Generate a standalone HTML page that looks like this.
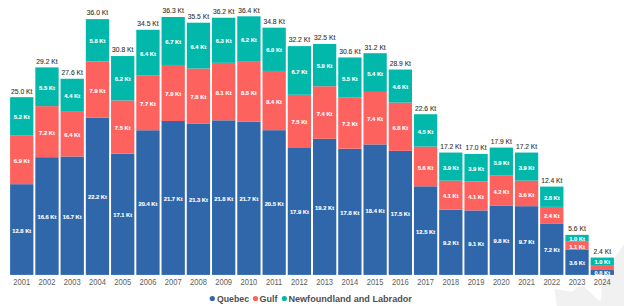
<!DOCTYPE html><html><head><meta charset="utf-8"><style>html,body{margin:0;padding:0;background:#fff;width:624px;height:306px;overflow:hidden}svg{display:block}text{font-family:"Liberation Sans",sans-serif}</style></head><body>
<svg width="624" height="306" viewBox="0 0 624 306">
<path fill="#f1f1f1" d="M554.4,288.7 L570.5,291.7 Q573.5,292.3 576.4,287.3 L584.3,286.6 L597.3,299.6 Q599.4,301.4 601.2,299 L601.8,284 L606,272 L614.7,257.6 L624,244 L624,306 L556.8,306 Z"/>
<rect x="10.10" y="184.17" width="23.30" height="90.73" fill="#2F67AA"/>
<rect x="10.10" y="135.21" width="23.30" height="48.96" fill="#FD625E"/>
<rect x="10.10" y="97.20" width="23.30" height="38.01" fill="#01B8AA"/>
<text transform="translate(21.75,232.56) scale(0.935,1)" font-size="6.2" font-weight="bold" fill="#ffffff" stroke="#ffffff" stroke-width="0.12" text-anchor="middle">12.8 Kt</text>
<text transform="translate(21.75,162.79) scale(0.935,1)" font-size="6.2" font-weight="bold" fill="#ffffff" stroke="#ffffff" stroke-width="0.12" text-anchor="middle">6.9 Kt</text>
<text transform="translate(21.75,119.30) scale(0.935,1)" font-size="6.2" font-weight="bold" fill="#ffffff" stroke="#ffffff" stroke-width="0.12" text-anchor="middle">5.2 Kt</text>
<text transform="translate(21.75,93.50) scale(0.885,1)" font-size="7.6" fill="#363534" stroke="#363534" stroke-width="0.12" text-anchor="middle">25.0 Kt</text>
<text transform="translate(21.75,284.80) scale(0.89,1)" font-size="8.5" fill="#605e5c" text-anchor="middle">2001</text>
<rect x="35.34" y="157.21" width="23.30" height="117.69" fill="#2F67AA"/>
<rect x="35.34" y="106.12" width="23.30" height="51.09" fill="#FD625E"/>
<rect x="35.34" y="67.40" width="23.30" height="38.72" fill="#01B8AA"/>
<text transform="translate(46.99,219.08) scale(0.935,1)" font-size="6.2" font-weight="bold" fill="#ffffff" stroke="#ffffff" stroke-width="0.12" text-anchor="middle">16.6 Kt</text>
<text transform="translate(46.99,134.76) scale(0.935,1)" font-size="6.2" font-weight="bold" fill="#ffffff" stroke="#ffffff" stroke-width="0.12" text-anchor="middle">7.2 Kt</text>
<text transform="translate(46.99,89.86) scale(0.935,1)" font-size="6.2" font-weight="bold" fill="#ffffff" stroke="#ffffff" stroke-width="0.12" text-anchor="middle">5.5 Kt</text>
<text transform="translate(46.99,63.70) scale(0.885,1)" font-size="7.6" fill="#363534" stroke="#363534" stroke-width="0.12" text-anchor="middle">29.2 Kt</text>
<text transform="translate(46.99,284.80) scale(0.89,1)" font-size="8.5" fill="#605e5c" text-anchor="middle">2002</text>
<rect x="60.58" y="156.50" width="23.30" height="118.40" fill="#2F67AA"/>
<rect x="60.58" y="111.08" width="23.30" height="45.41" fill="#FD625E"/>
<rect x="60.58" y="78.75" width="23.30" height="32.33" fill="#01B8AA"/>
<text transform="translate(72.23,218.72) scale(0.935,1)" font-size="6.2" font-weight="bold" fill="#ffffff" stroke="#ffffff" stroke-width="0.12" text-anchor="middle">16.7 Kt</text>
<text transform="translate(72.23,136.89) scale(0.935,1)" font-size="6.2" font-weight="bold" fill="#ffffff" stroke="#ffffff" stroke-width="0.12" text-anchor="middle">6.4 Kt</text>
<text transform="translate(72.23,98.02) scale(0.935,1)" font-size="6.2" font-weight="bold" fill="#ffffff" stroke="#ffffff" stroke-width="0.12" text-anchor="middle">4.4 Kt</text>
<text transform="translate(72.23,75.05) scale(0.885,1)" font-size="7.6" fill="#363534" stroke="#363534" stroke-width="0.12" text-anchor="middle">27.6 Kt</text>
<text transform="translate(72.23,284.80) scale(0.89,1)" font-size="8.5" fill="#605e5c" text-anchor="middle">2003</text>
<rect x="85.82" y="117.47" width="23.30" height="157.43" fill="#2F67AA"/>
<rect x="85.82" y="61.41" width="23.30" height="56.06" fill="#FD625E"/>
<rect x="85.82" y="19.14" width="23.30" height="42.27" fill="#01B8AA"/>
<text transform="translate(97.47,199.21) scale(0.935,1)" font-size="6.2" font-weight="bold" fill="#ffffff" stroke="#ffffff" stroke-width="0.12" text-anchor="middle">22.2 Kt</text>
<text transform="translate(97.47,92.54) scale(0.935,1)" font-size="6.2" font-weight="bold" fill="#ffffff" stroke="#ffffff" stroke-width="0.12" text-anchor="middle">7.9 Kt</text>
<text transform="translate(97.47,43.38) scale(0.935,1)" font-size="6.2" font-weight="bold" fill="#ffffff" stroke="#ffffff" stroke-width="0.12" text-anchor="middle">5.8 Kt</text>
<text transform="translate(97.47,15.44) scale(0.885,1)" font-size="7.6" fill="#363534" stroke="#363534" stroke-width="0.12" text-anchor="middle">36.0 Kt</text>
<text transform="translate(97.47,284.80) scale(0.89,1)" font-size="8.5" fill="#605e5c" text-anchor="middle">2004</text>
<rect x="111.06" y="153.66" width="23.30" height="121.24" fill="#2F67AA"/>
<rect x="111.06" y="100.44" width="23.30" height="53.22" fill="#FD625E"/>
<rect x="111.06" y="56.04" width="23.30" height="44.40" fill="#01B8AA"/>
<text transform="translate(122.71,217.30) scale(0.935,1)" font-size="6.2" font-weight="bold" fill="#ffffff" stroke="#ffffff" stroke-width="0.12" text-anchor="middle">17.1 Kt</text>
<text transform="translate(122.71,130.15) scale(0.935,1)" font-size="6.2" font-weight="bold" fill="#ffffff" stroke="#ffffff" stroke-width="0.12" text-anchor="middle">7.5 Kt</text>
<text transform="translate(122.71,81.34) scale(0.935,1)" font-size="6.2" font-weight="bold" fill="#ffffff" stroke="#ffffff" stroke-width="0.12" text-anchor="middle">6.2 Kt</text>
<text transform="translate(122.71,52.34) scale(0.885,1)" font-size="7.6" fill="#363534" stroke="#363534" stroke-width="0.12" text-anchor="middle">30.8 Kt</text>
<text transform="translate(122.71,284.80) scale(0.89,1)" font-size="8.5" fill="#605e5c" text-anchor="middle">2005</text>
<rect x="136.30" y="130.24" width="23.30" height="144.66" fill="#2F67AA"/>
<rect x="136.30" y="75.60" width="23.30" height="54.64" fill="#FD625E"/>
<rect x="136.30" y="29.79" width="23.30" height="45.81" fill="#01B8AA"/>
<text transform="translate(147.95,205.60) scale(0.935,1)" font-size="6.2" font-weight="bold" fill="#ffffff" stroke="#ffffff" stroke-width="0.12" text-anchor="middle">20.4 Kt</text>
<text transform="translate(147.95,106.02) scale(0.935,1)" font-size="6.2" font-weight="bold" fill="#ffffff" stroke="#ffffff" stroke-width="0.12" text-anchor="middle">7.7 Kt</text>
<text transform="translate(147.95,55.80) scale(0.935,1)" font-size="6.2" font-weight="bold" fill="#ffffff" stroke="#ffffff" stroke-width="0.12" text-anchor="middle">6.4 Kt</text>
<text transform="translate(147.95,26.09) scale(0.885,1)" font-size="7.6" fill="#363534" stroke="#363534" stroke-width="0.12" text-anchor="middle">34.5 Kt</text>
<text transform="translate(147.95,284.80) scale(0.89,1)" font-size="8.5" fill="#605e5c" text-anchor="middle">2006</text>
<rect x="161.54" y="121.02" width="23.30" height="153.88" fill="#2F67AA"/>
<rect x="161.54" y="64.96" width="23.30" height="56.06" fill="#FD625E"/>
<rect x="161.54" y="17.02" width="23.30" height="47.94" fill="#01B8AA"/>
<text transform="translate(173.19,200.98) scale(0.935,1)" font-size="6.2" font-weight="bold" fill="#ffffff" stroke="#ffffff" stroke-width="0.12" text-anchor="middle">21.7 Kt</text>
<text transform="translate(173.19,96.09) scale(0.935,1)" font-size="6.2" font-weight="bold" fill="#ffffff" stroke="#ffffff" stroke-width="0.12" text-anchor="middle">7.9 Kt</text>
<text transform="translate(173.19,44.09) scale(0.935,1)" font-size="6.2" font-weight="bold" fill="#ffffff" stroke="#ffffff" stroke-width="0.12" text-anchor="middle">6.7 Kt</text>
<text transform="translate(173.19,13.32) scale(0.885,1)" font-size="7.6" fill="#363534" stroke="#363534" stroke-width="0.12" text-anchor="middle">36.3 Kt</text>
<text transform="translate(173.19,284.80) scale(0.89,1)" font-size="8.5" fill="#605e5c" text-anchor="middle">2007</text>
<rect x="186.78" y="123.86" width="23.30" height="151.04" fill="#2F67AA"/>
<rect x="186.78" y="68.51" width="23.30" height="55.35" fill="#FD625E"/>
<rect x="186.78" y="22.69" width="23.30" height="45.81" fill="#01B8AA"/>
<text transform="translate(198.43,202.40) scale(0.935,1)" font-size="6.2" font-weight="bold" fill="#ffffff" stroke="#ffffff" stroke-width="0.12" text-anchor="middle">21.3 Kt</text>
<text transform="translate(198.43,99.28) scale(0.935,1)" font-size="6.2" font-weight="bold" fill="#ffffff" stroke="#ffffff" stroke-width="0.12" text-anchor="middle">7.8 Kt</text>
<text transform="translate(198.43,48.70) scale(0.935,1)" font-size="6.2" font-weight="bold" fill="#ffffff" stroke="#ffffff" stroke-width="0.12" text-anchor="middle">6.4 Kt</text>
<text transform="translate(198.43,18.99) scale(0.885,1)" font-size="7.6" fill="#363534" stroke="#363534" stroke-width="0.12" text-anchor="middle">35.5 Kt</text>
<text transform="translate(198.43,284.80) scale(0.89,1)" font-size="8.5" fill="#605e5c" text-anchor="middle">2008</text>
<rect x="212.02" y="120.31" width="23.30" height="154.59" fill="#2F67AA"/>
<rect x="212.02" y="62.83" width="23.30" height="57.48" fill="#FD625E"/>
<rect x="212.02" y="17.72" width="23.30" height="45.10" fill="#01B8AA"/>
<text transform="translate(223.67,200.63) scale(0.935,1)" font-size="6.2" font-weight="bold" fill="#ffffff" stroke="#ffffff" stroke-width="0.12" text-anchor="middle">21.8 Kt</text>
<text transform="translate(223.67,94.67) scale(0.935,1)" font-size="6.2" font-weight="bold" fill="#ffffff" stroke="#ffffff" stroke-width="0.12" text-anchor="middle">8.1 Kt</text>
<text transform="translate(223.67,43.38) scale(0.935,1)" font-size="6.2" font-weight="bold" fill="#ffffff" stroke="#ffffff" stroke-width="0.12" text-anchor="middle">6.3 Kt</text>
<text transform="translate(223.67,14.02) scale(0.885,1)" font-size="7.6" fill="#363534" stroke="#363534" stroke-width="0.12" text-anchor="middle">36.2 Kt</text>
<text transform="translate(223.67,284.80) scale(0.89,1)" font-size="8.5" fill="#605e5c" text-anchor="middle">2009</text>
<rect x="237.26" y="121.73" width="23.30" height="153.17" fill="#2F67AA"/>
<rect x="237.26" y="61.13" width="23.30" height="60.60" fill="#FD625E"/>
<rect x="237.26" y="16.31" width="23.30" height="44.82" fill="#01B8AA"/>
<text transform="translate(248.91,201.34) scale(0.935,1)" font-size="6.2" font-weight="bold" fill="#ffffff" stroke="#ffffff" stroke-width="0.12" text-anchor="middle">21.7 Kt</text>
<text transform="translate(248.91,94.53) scale(0.935,1)" font-size="6.2" font-weight="bold" fill="#ffffff" stroke="#ffffff" stroke-width="0.12" text-anchor="middle">8.5 Kt</text>
<text transform="translate(248.91,41.82) scale(0.935,1)" font-size="6.2" font-weight="bold" fill="#ffffff" stroke="#ffffff" stroke-width="0.12" text-anchor="middle">6.2 Kt</text>
<text transform="translate(248.91,12.61) scale(0.885,1)" font-size="7.6" fill="#363534" stroke="#363534" stroke-width="0.12" text-anchor="middle">36.4 Kt</text>
<text transform="translate(248.91,284.80) scale(0.89,1)" font-size="8.5" fill="#605e5c" text-anchor="middle">2010</text>
<rect x="262.50" y="130.17" width="23.30" height="144.73" fill="#2F67AA"/>
<rect x="262.50" y="70.92" width="23.30" height="59.25" fill="#FD625E"/>
<rect x="262.50" y="27.66" width="23.30" height="43.26" fill="#01B8AA"/>
<text transform="translate(274.15,205.56) scale(0.935,1)" font-size="6.2" font-weight="bold" fill="#ffffff" stroke="#ffffff" stroke-width="0.12" text-anchor="middle">20.5 Kt</text>
<text transform="translate(274.15,103.64) scale(0.935,1)" font-size="6.2" font-weight="bold" fill="#ffffff" stroke="#ffffff" stroke-width="0.12" text-anchor="middle">8.4 Kt</text>
<text transform="translate(274.15,52.39) scale(0.935,1)" font-size="6.2" font-weight="bold" fill="#ffffff" stroke="#ffffff" stroke-width="0.12" text-anchor="middle">6.0 Kt</text>
<text transform="translate(274.15,23.96) scale(0.885,1)" font-size="7.6" fill="#363534" stroke="#363534" stroke-width="0.12" text-anchor="middle">34.8 Kt</text>
<text transform="translate(274.15,284.80) scale(0.89,1)" font-size="8.5" fill="#605e5c" text-anchor="middle">2011</text>
<rect x="287.74" y="147.98" width="23.30" height="126.92" fill="#2F67AA"/>
<rect x="287.74" y="94.76" width="23.30" height="53.22" fill="#FD625E"/>
<rect x="287.74" y="46.11" width="23.30" height="48.65" fill="#01B8AA"/>
<text transform="translate(299.39,214.47) scale(0.935,1)" font-size="6.2" font-weight="bold" fill="#ffffff" stroke="#ffffff" stroke-width="0.12" text-anchor="middle">17.9 Kt</text>
<text transform="translate(299.39,124.47) scale(0.935,1)" font-size="6.2" font-weight="bold" fill="#ffffff" stroke="#ffffff" stroke-width="0.12" text-anchor="middle">7.5 Kt</text>
<text transform="translate(299.39,73.54) scale(0.935,1)" font-size="6.2" font-weight="bold" fill="#ffffff" stroke="#ffffff" stroke-width="0.12" text-anchor="middle">6.7 Kt</text>
<text transform="translate(299.39,42.41) scale(0.885,1)" font-size="7.6" fill="#363534" stroke="#363534" stroke-width="0.12" text-anchor="middle">32.2 Kt</text>
<text transform="translate(299.39,284.80) scale(0.89,1)" font-size="8.5" fill="#605e5c" text-anchor="middle">2012</text>
<rect x="312.98" y="138.76" width="23.30" height="136.14" fill="#2F67AA"/>
<rect x="312.98" y="86.25" width="23.30" height="52.51" fill="#FD625E"/>
<rect x="312.98" y="43.98" width="23.30" height="42.27" fill="#01B8AA"/>
<text transform="translate(324.63,209.85) scale(0.935,1)" font-size="6.2" font-weight="bold" fill="#ffffff" stroke="#ffffff" stroke-width="0.12" text-anchor="middle">19.2 Kt</text>
<text transform="translate(324.63,115.60) scale(0.935,1)" font-size="6.2" font-weight="bold" fill="#ffffff" stroke="#ffffff" stroke-width="0.12" text-anchor="middle">7.4 Kt</text>
<text transform="translate(324.63,68.21) scale(0.935,1)" font-size="6.2" font-weight="bold" fill="#ffffff" stroke="#ffffff" stroke-width="0.12" text-anchor="middle">5.9 Kt</text>
<text transform="translate(324.63,40.28) scale(0.885,1)" font-size="7.6" fill="#363534" stroke="#363534" stroke-width="0.12" text-anchor="middle">32.5 Kt</text>
<text transform="translate(324.63,284.80) scale(0.89,1)" font-size="8.5" fill="#605e5c" text-anchor="middle">2013</text>
<rect x="338.22" y="148.69" width="23.30" height="126.21" fill="#2F67AA"/>
<rect x="338.22" y="97.60" width="23.30" height="51.09" fill="#FD625E"/>
<rect x="338.22" y="57.46" width="23.30" height="40.14" fill="#01B8AA"/>
<text transform="translate(349.87,214.82) scale(0.935,1)" font-size="6.2" font-weight="bold" fill="#ffffff" stroke="#ffffff" stroke-width="0.12" text-anchor="middle">17.8 Kt</text>
<text transform="translate(349.87,126.25) scale(0.935,1)" font-size="6.2" font-weight="bold" fill="#ffffff" stroke="#ffffff" stroke-width="0.12" text-anchor="middle">7.2 Kt</text>
<text transform="translate(349.87,80.63) scale(0.935,1)" font-size="6.2" font-weight="bold" fill="#ffffff" stroke="#ffffff" stroke-width="0.12" text-anchor="middle">5.5 Kt</text>
<text transform="translate(349.87,53.76) scale(0.885,1)" font-size="7.6" fill="#363534" stroke="#363534" stroke-width="0.12" text-anchor="middle">30.6 Kt</text>
<text transform="translate(349.87,284.80) scale(0.89,1)" font-size="8.5" fill="#605e5c" text-anchor="middle">2014</text>
<rect x="363.46" y="144.43" width="23.30" height="130.47" fill="#2F67AA"/>
<rect x="363.46" y="91.92" width="23.30" height="52.51" fill="#FD625E"/>
<rect x="363.46" y="53.20" width="23.30" height="38.72" fill="#01B8AA"/>
<text transform="translate(375.11,212.69) scale(0.935,1)" font-size="6.2" font-weight="bold" fill="#ffffff" stroke="#ffffff" stroke-width="0.12" text-anchor="middle">18.4 Kt</text>
<text transform="translate(375.11,121.28) scale(0.935,1)" font-size="6.2" font-weight="bold" fill="#ffffff" stroke="#ffffff" stroke-width="0.12" text-anchor="middle">7.4 Kt</text>
<text transform="translate(375.11,75.66) scale(0.935,1)" font-size="6.2" font-weight="bold" fill="#ffffff" stroke="#ffffff" stroke-width="0.12" text-anchor="middle">5.4 Kt</text>
<text transform="translate(375.11,49.50) scale(0.885,1)" font-size="7.6" fill="#363534" stroke="#363534" stroke-width="0.12" text-anchor="middle">31.2 Kt</text>
<text transform="translate(375.11,284.80) scale(0.89,1)" font-size="8.5" fill="#605e5c" text-anchor="middle">2015</text>
<rect x="388.70" y="150.82" width="23.30" height="124.08" fill="#2F67AA"/>
<rect x="388.70" y="102.57" width="23.30" height="48.25" fill="#FD625E"/>
<rect x="388.70" y="69.53" width="23.30" height="33.04" fill="#01B8AA"/>
<text transform="translate(400.35,215.88) scale(0.935,1)" font-size="6.2" font-weight="bold" fill="#ffffff" stroke="#ffffff" stroke-width="0.12" text-anchor="middle">17.5 Kt</text>
<text transform="translate(400.35,129.79) scale(0.935,1)" font-size="6.2" font-weight="bold" fill="#ffffff" stroke="#ffffff" stroke-width="0.12" text-anchor="middle">6.8 Kt</text>
<text transform="translate(400.35,89.15) scale(0.935,1)" font-size="6.2" font-weight="bold" fill="#ffffff" stroke="#ffffff" stroke-width="0.12" text-anchor="middle">4.6 Kt</text>
<text transform="translate(400.35,65.83) scale(0.885,1)" font-size="7.6" fill="#363534" stroke="#363534" stroke-width="0.12" text-anchor="middle">28.9 Kt</text>
<text transform="translate(400.35,284.80) scale(0.89,1)" font-size="8.5" fill="#605e5c" text-anchor="middle">2016</text>
<rect x="413.94" y="186.30" width="23.30" height="88.60" fill="#2F67AA"/>
<rect x="413.94" y="146.56" width="23.30" height="39.74" fill="#FD625E"/>
<rect x="413.94" y="114.23" width="23.30" height="32.33" fill="#01B8AA"/>
<text transform="translate(425.59,233.62) scale(0.935,1)" font-size="6.2" font-weight="bold" fill="#ffffff" stroke="#ffffff" stroke-width="0.12" text-anchor="middle">12.5 Kt</text>
<text transform="translate(425.59,169.53) scale(0.935,1)" font-size="6.2" font-weight="bold" fill="#ffffff" stroke="#ffffff" stroke-width="0.12" text-anchor="middle">5.6 Kt</text>
<text transform="translate(425.59,133.50) scale(0.935,1)" font-size="6.2" font-weight="bold" fill="#ffffff" stroke="#ffffff" stroke-width="0.12" text-anchor="middle">4.5 Kt</text>
<text transform="translate(425.59,110.53) scale(0.885,1)" font-size="7.6" fill="#363534" stroke="#363534" stroke-width="0.12" text-anchor="middle">22.6 Kt</text>
<text transform="translate(425.59,284.80) scale(0.89,1)" font-size="8.5" fill="#605e5c" text-anchor="middle">2017</text>
<rect x="439.18" y="209.72" width="23.30" height="65.18" fill="#2F67AA"/>
<rect x="439.18" y="180.62" width="23.30" height="29.09" fill="#FD625E"/>
<rect x="439.18" y="152.55" width="23.30" height="28.07" fill="#01B8AA"/>
<text transform="translate(450.83,245.33) scale(0.935,1)" font-size="6.2" font-weight="bold" fill="#ffffff" stroke="#ffffff" stroke-width="0.12" text-anchor="middle">9.2 Kt</text>
<text transform="translate(450.83,198.27) scale(0.935,1)" font-size="6.2" font-weight="bold" fill="#ffffff" stroke="#ffffff" stroke-width="0.12" text-anchor="middle">4.1 Kt</text>
<text transform="translate(450.83,169.69) scale(0.935,1)" font-size="6.2" font-weight="bold" fill="#ffffff" stroke="#ffffff" stroke-width="0.12" text-anchor="middle">3.9 Kt</text>
<text transform="translate(450.83,148.85) scale(0.885,1)" font-size="7.6" fill="#363534" stroke="#363534" stroke-width="0.12" text-anchor="middle">17.2 Kt</text>
<text transform="translate(450.83,284.80) scale(0.89,1)" font-size="8.5" fill="#605e5c" text-anchor="middle">2018</text>
<rect x="464.42" y="210.43" width="23.30" height="64.47" fill="#2F67AA"/>
<rect x="464.42" y="181.33" width="23.30" height="29.09" fill="#FD625E"/>
<rect x="464.42" y="153.97" width="23.30" height="27.36" fill="#01B8AA"/>
<text transform="translate(476.07,245.69) scale(0.935,1)" font-size="6.2" font-weight="bold" fill="#ffffff" stroke="#ffffff" stroke-width="0.12" text-anchor="middle">9.1 Kt</text>
<text transform="translate(476.07,198.98) scale(0.935,1)" font-size="6.2" font-weight="bold" fill="#ffffff" stroke="#ffffff" stroke-width="0.12" text-anchor="middle">4.1 Kt</text>
<text transform="translate(476.07,170.75) scale(0.935,1)" font-size="6.2" font-weight="bold" fill="#ffffff" stroke="#ffffff" stroke-width="0.12" text-anchor="middle">3.9 Kt</text>
<text transform="translate(476.07,150.27) scale(0.885,1)" font-size="7.6" fill="#363534" stroke="#363534" stroke-width="0.12" text-anchor="middle">17.0 Kt</text>
<text transform="translate(476.07,284.80) scale(0.89,1)" font-size="8.5" fill="#605e5c" text-anchor="middle">2019</text>
<rect x="489.66" y="205.46" width="23.30" height="69.44" fill="#2F67AA"/>
<rect x="489.66" y="175.66" width="23.30" height="29.80" fill="#FD625E"/>
<rect x="489.66" y="147.58" width="23.30" height="28.07" fill="#01B8AA"/>
<text transform="translate(501.31,243.20) scale(0.935,1)" font-size="6.2" font-weight="bold" fill="#ffffff" stroke="#ffffff" stroke-width="0.12" text-anchor="middle">9.8 Kt</text>
<text transform="translate(501.31,193.66) scale(0.935,1)" font-size="6.2" font-weight="bold" fill="#ffffff" stroke="#ffffff" stroke-width="0.12" text-anchor="middle">4.2 Kt</text>
<text transform="translate(501.31,164.72) scale(0.935,1)" font-size="6.2" font-weight="bold" fill="#ffffff" stroke="#ffffff" stroke-width="0.12" text-anchor="middle">3.9 Kt</text>
<text transform="translate(501.31,143.88) scale(0.885,1)" font-size="7.6" fill="#363534" stroke="#363534" stroke-width="0.12" text-anchor="middle">17.9 Kt</text>
<text transform="translate(501.31,284.80) scale(0.89,1)" font-size="8.5" fill="#605e5c" text-anchor="middle">2020</text>
<rect x="514.90" y="206.17" width="23.30" height="68.73" fill="#2F67AA"/>
<rect x="514.90" y="180.62" width="23.30" height="25.55" fill="#FD625E"/>
<rect x="514.90" y="152.55" width="23.30" height="28.07" fill="#01B8AA"/>
<text transform="translate(526.55,243.56) scale(0.935,1)" font-size="6.2" font-weight="bold" fill="#ffffff" stroke="#ffffff" stroke-width="0.12" text-anchor="middle">9.7 Kt</text>
<text transform="translate(526.55,196.50) scale(0.935,1)" font-size="6.2" font-weight="bold" fill="#ffffff" stroke="#ffffff" stroke-width="0.12" text-anchor="middle">3.6 Kt</text>
<text transform="translate(526.55,169.69) scale(0.935,1)" font-size="6.2" font-weight="bold" fill="#ffffff" stroke="#ffffff" stroke-width="0.12" text-anchor="middle">3.9 Kt</text>
<text transform="translate(526.55,148.85) scale(0.885,1)" font-size="7.6" fill="#363534" stroke="#363534" stroke-width="0.12" text-anchor="middle">17.2 Kt</text>
<text transform="translate(526.55,284.80) scale(0.89,1)" font-size="8.5" fill="#605e5c" text-anchor="middle">2021</text>
<rect x="540.14" y="223.91" width="23.30" height="50.99" fill="#2F67AA"/>
<rect x="540.14" y="206.88" width="23.30" height="17.03" fill="#FD625E"/>
<rect x="540.14" y="186.61" width="23.30" height="20.27" fill="#01B8AA"/>
<text transform="translate(551.79,252.43) scale(0.935,1)" font-size="6.2" font-weight="bold" fill="#ffffff" stroke="#ffffff" stroke-width="0.12" text-anchor="middle">7.2 Kt</text>
<text transform="translate(551.79,218.49) scale(0.935,1)" font-size="6.2" font-weight="bold" fill="#ffffff" stroke="#ffffff" stroke-width="0.12" text-anchor="middle">2.4 Kt</text>
<text transform="translate(551.79,199.84) scale(0.935,1)" font-size="6.2" font-weight="bold" fill="#ffffff" stroke="#ffffff" stroke-width="0.12" text-anchor="middle">2.8 Kt</text>
<text transform="translate(551.79,182.91) scale(0.885,1)" font-size="7.6" fill="#363534" stroke="#363534" stroke-width="0.12" text-anchor="middle">12.4 Kt</text>
<text transform="translate(551.79,284.80) scale(0.89,1)" font-size="8.5" fill="#605e5c" text-anchor="middle">2022</text>
<rect x="565.38" y="249.45" width="23.30" height="25.45" fill="#2F67AA"/>
<rect x="565.38" y="241.65" width="23.30" height="7.81" fill="#FD625E"/>
<rect x="565.38" y="234.86" width="23.30" height="6.79" fill="#01B8AA"/>
<text transform="translate(577.03,265.20) scale(0.935,1)" font-size="6.2" font-weight="bold" fill="#ffffff" stroke="#ffffff" stroke-width="0.12" text-anchor="middle">3.6 Kt</text>
<text transform="translate(577.03,248.65) scale(0.935,1)" font-size="6.2" font-weight="bold" fill="#ffffff" stroke="#ffffff" stroke-width="0.12" text-anchor="middle">1.1 Kt</text>
<text transform="translate(577.03,241.36) scale(0.935,1)" font-size="6.2" font-weight="bold" fill="#ffffff" stroke="#ffffff" stroke-width="0.12" text-anchor="middle">1.0 Kt</text>
<text transform="translate(577.03,231.16) scale(0.885,1)" font-size="7.6" fill="#363534" stroke="#363534" stroke-width="0.12" text-anchor="middle">5.6 Kt</text>
<text transform="translate(577.03,284.80) scale(0.89,1)" font-size="8.5" fill="#605e5c" text-anchor="middle">2023</text>
<rect x="590.62" y="270.03" width="23.30" height="4.87" fill="#2F67AA"/>
<rect x="590.62" y="265.07" width="23.30" height="4.97" fill="#FD625E"/>
<rect x="590.62" y="257.57" width="23.30" height="7.50" fill="#01B8AA"/>
<text transform="translate(602.27,275.49) scale(0.935,1)" font-size="6.2" font-weight="bold" fill="#ffffff" stroke="#ffffff" stroke-width="0.12" text-anchor="middle">0.8 Kt</text>
<text transform="translate(602.27,264.42) scale(0.935,1)" font-size="6.2" font-weight="bold" fill="#ffffff" stroke="#ffffff" stroke-width="0.12" text-anchor="middle">1.0 Kt</text>
<text transform="translate(602.27,253.87) scale(0.885,1)" font-size="7.6" fill="#363534" stroke="#363534" stroke-width="0.12" text-anchor="middle">2.4 Kt</text>
<text transform="translate(602.27,284.80) scale(0.89,1)" font-size="8.5" fill="#605e5c" text-anchor="middle">2024</text>
<circle cx="212.3" cy="298.5" r="2.6" fill="#2F67AA"/>
<text x="217" y="301.5" font-size="8.9" font-weight="bold" fill="#504f4e" textLength="32" lengthAdjust="spacingAndGlyphs">Quebec</text>
<circle cx="255.5" cy="298.5" r="2.6" fill="#FD625E"/>
<text x="259.5" y="301.5" font-size="8.9" font-weight="bold" fill="#504f4e" textLength="18" lengthAdjust="spacingAndGlyphs">Gulf</text>
<circle cx="284.4" cy="298.5" r="2.6" fill="#01B8AA"/>
<text x="288.4" y="301.5" font-size="8.9" font-weight="bold" fill="#504f4e" textLength="123.5" lengthAdjust="spacingAndGlyphs">Newfoundland and Labrador</text>
</svg></body></html>
